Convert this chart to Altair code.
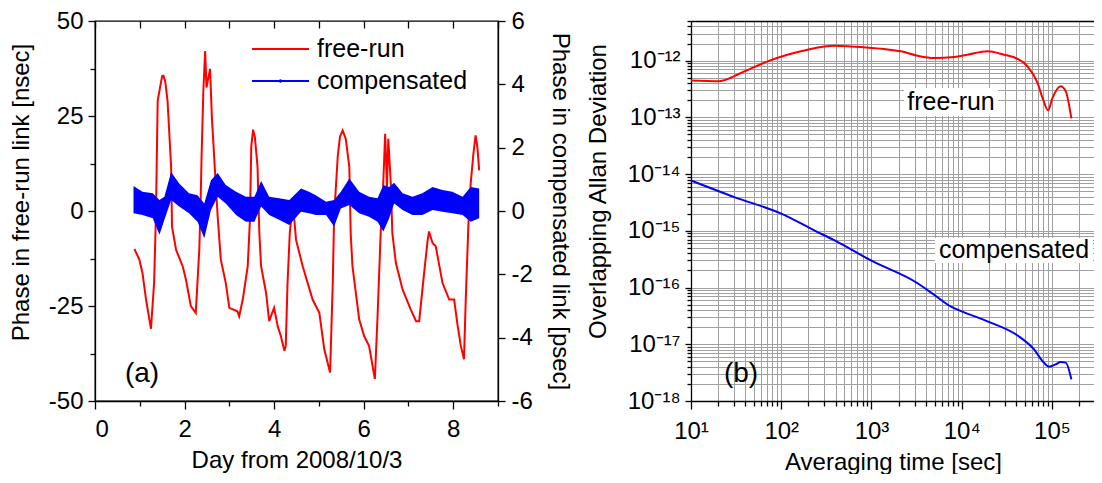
import altair as alt
import pandas as pd

# ---------------- data ----------------
# (a) free-run phase [nsec] vs day
fr_day = [0.88, 0.99, 1.06, 1.14, 1.25, 1.32, 1.36, 1.40, 1.46, 1.50, 1.53, 1.57, 1.62, 1.70, 1.72,
          1.81, 1.96, 2.03, 2.14, 2.25, 2.33, 2.36, 2.38, 2.42, 2.46, 2.49, 2.53, 2.57, 2.61, 2.70,
          2.74, 2.81, 2.92, 3.00, 3.18, 3.22, 3.30, 3.41, 3.46, 3.49, 3.53, 3.57, 3.63, 3.67, 3.71,
          3.82, 3.89, 3.95, 4.00, 4.08, 4.15, 4.23, 4.26, 4.30, 4.35, 4.42, 4.49, 4.64, 4.86, 5.01,
          5.12, 5.25, 5.31, 5.34, 5.42, 5.47, 5.53, 5.60, 5.68, 5.71, 5.75, 5.90, 6.01, 6.12, 6.25,
          6.31, 6.38, 6.43, 6.48, 6.52, 6.55, 6.61, 6.64, 6.72, 6.87, 7.05, 7.17, 7.24, 7.35, 7.43,
          7.46, 7.54, 7.61, 7.76, 7.91, 8.02, 8.10, 8.17, 8.24, 8.28, 8.34, 8.39, 8.45, 8.50, 8.54,
          8.58]
fr_ns = [-10.0, -12.8, -16.3, -23.3, -31.0, -18.9, -1.5, 29.0, 33.0, 35.5, 35.6, 34.0, 29.0, 11.6, -4.1,
         -10.2, -14.6, -18.0, -25.0, -26.8, -10.0, 2.9, 14.2, 31.7, 42.1, 32.5, 35.0, 37.4, 24.7, 6.4,
         -1.5, -12.8, -18.9, -25.5, -26.4, -27.7, -23.3, -14.6, -2.4, 17.0, 21.4, 19.5, 11.6, -5.8, -14.6,
         -21.5, -29.0, -27.0, -25.5, -30.3, -32.9, -36.8, -35.5, -18.9, -5.8, 2.0, -7.6, -14.6, -23.3, -26.8,
         -36.4, -42.5, -18.9, -1.5, 14.2, 19.5, 21.2, 19.0, 11.6, -5.8, -14.6, -28.5, -32.9, -35.5, -44.2,
         -27.7, -5.8, 5.0, 20.3, 6.4, 19.0, 6.4, -5.8, -13.7, -20.7, -25.9, -29.0, -29.0, -16.3, -7.6,
         -5.4, -8.5, -9.3, -18.9, -23.3, -23.3, -30.3, -35.5, -39.0, -23.3, -3.2, 7.2, 15.0, 19.9, 16.8,
         10.7]

# (a) compensated phase [psec]: upper / lower envelope of the noisy trace
cp_day = [0.86, 1.06, 1.29, 1.44, 1.55, 1.70, 1.88, 2.10, 2.29, 2.44, 2.59, 2.74, 2.92, 3.15,
          3.37, 3.56, 3.71, 3.89, 4.11, 4.34, 4.60, 4.78, 4.93, 5.16, 5.34, 5.49, 5.68, 5.90,
          6.12, 6.31, 6.44, 6.57, 6.68, 6.87, 7.09, 7.31, 7.54, 7.76, 7.98, 8.21, 8.39, 8.58]
cp_hi = [0.79, 0.61, 0.56, 0.35, 0.45, 1.23, 0.87, 0.56, 0.50, 0.24, 0.97, 1.20, 0.82, 0.61,
         0.45, 0.45, 0.95, 0.45, 0.40, 0.35, 0.71, 0.61, 0.50, 0.29, 0.35, 0.61, 1.03, 0.61,
         0.45, 0.40, 0.82, 0.76, 0.89, 0.56, 0.45, 0.56, 0.76, 0.66, 0.61, 0.45, 0.76, 0.71]
cp_lo = [-0.07, -0.13, -0.23, -0.75, -0.28, 0.35, 0.14, -0.07, -0.34, -0.86, 0.03, 0.45, 0.24, -0.13,
         -0.34, -0.34, 0.14, -0.13, -0.28, -0.44, -0.02, -0.07, -0.13, -0.13, -0.49, 0.08, 0.19, -0.07,
         -0.18, -0.34, -0.65, -0.23, 0.24, 0.03, -0.13, -0.13, 0.03, -0.02, -0.07, -0.13, -0.34, -0.23]

# (b) overlapping Allan deviation
fr_tau = [10, 20.6, 35.8, 70.6, 117, 196, 386, 590, 1380, 2115, 3240, 4950, 8240, 11600,
          19300, 29500, 41500, 53600, 69200, 78600, 90600, 101400, 125000, 142000, 164000]
fr_adev = [4.47e-13, 4.35e-13, 6.07e-13, 9.7e-13, 1.27e-12, 1.56e-12, 1.83e-12, 1.78e-12, 1.6e-12,
           1.46e-12, 1.22e-12, 1.11e-12, 1.16e-12, 1.27e-12, 1.46e-12, 1.27e-12, 1.08e-12, 7.95e-13,
           4.06e-13, 2.21e-13, 1.33e-13, 2.21e-13, 3.55e-13, 2.9e-13, 9.6e-14]
cp_tau = [10, 30.2, 100, 232, 386, 1000, 3240, 4950, 7530, 10000, 19300, 41500, 63300, 78600,
          92700, 110000, 125000, 142000, 164000]
cp_adev = [7.7e-15, 3.93e-15, 2.01e-15, 1.02e-15, 6.84e-16, 2.97e-16, 1.19e-16, 7.45e-17, 4.65e-17,
           3.8e-17, 2.54e-17, 1.43e-17, 8.1e-18, 5.06e-18, 4.03e-18, 4.43e-18, 4.86e-18, 4.75e-18,
           2.42e-18]

series_names = ["free-run", "compensated"]
series_colors = ["#ff0000", "#0000ff"]

# ---------------- helpers ----------------
FONT = "Liberation Sans"
FS = 24      # axis labels / titles
FS_IN = 25   # in-plot texts
SUP = {"-": "\u207b", "0": "\u2070", "1": "\u00b9", "2": "\u00b2", "3": "\u00b3", "4": "\u2074",
       "5": "\u2075", "6": "\u2076", "7": "\u2077", "8": "\u2078", "9": "\u2079"}


def pow_label(e):
    return "10" + "".join(SUP[c] for c in str(e))


y_exps = list(range(-18, -11))
x_exps = list(range(1, 6))
y_lab_arr = "[" + ",".join("'" + pow_label(e) + "'" for e in y_exps) + "]"
x_lab_arr = "[" + ",".join("'" + pow_label(e) + "'" for e in x_exps) + "]"
L10 = "(log(datum.value)/LN10)"
IS_DEC = f"abs({L10} - round({L10})) < 0.001"

y_vals_b = [k * 10.0 ** e for e in range(-18, -12) for k in range(1, 10)] + [k * 1e-12 for k in range(1, 6)]
x_vals_b = [k * 10.0 ** e for e in range(1, 5) for k in range(1, 10)] + [1e5, 2e5]

df_fr = pd.DataFrame({"day": fr_day, "ns": fr_ns})
df_cp = pd.DataFrame({"day": cp_day, "hi": cp_hi, "lo": cp_lo})
df_b = pd.concat([
    pd.DataFrame({"tau": fr_tau, "adev": fr_adev, "series": series_names[0]}),
    pd.DataFrame({"tau": cp_tau, "adev": cp_adev, "series": series_names[1]}),
])
one = pd.DataFrame({"k": [0]})

W_A, H = 403, 380
W_B = 404

xscale_a = alt.Scale(domain=[0, 9], nice=False, zero=False)

red = alt.Chart(df_fr).mark_line(color=series_colors[0], strokeWidth=2).encode(
    x=alt.X("day:Q", scale=xscale_a,
            axis=alt.Axis(orient="bottom", values=list(range(10)),
                          labelExpr="datum.value % 2 === 0 ? toString(datum.value) : ''",
                          tickSize={"condition": {"test": "datum.value % 2 === 0", "value": 8}, "value": 5},
                          labelPadding=8, titlePadding=7, title="Day from 2008/10/3", grid=False)),
    y=alt.Y("ns:Q", scale=alt.Scale(domain=[-50, 50], nice=False, zero=False),
            axis=alt.Axis(orient="left", values=[-50, -37.5, -25, -12.5, 0, 12.5, 25, 37.5, 50],
                          labelExpr="datum.value % 25 === 0 ? toString(datum.value) : ''",
                          tickSize={"condition": {"test": "datum.value % 25 === 0", "value": 7}, "value": 5},
                          labelPadding=5, titlePadding=15, titleY=171,
                          title="Phase in free-run link [nsec]", grid=False)),
)

blue = alt.Chart(df_cp).mark_area(color=series_colors[1], opacity=1, interpolate="linear").encode(
    x=alt.X("day:Q", scale=xscale_a,
            axis=alt.Axis(orient="top", values=list(range(10)), labels=False, domain=False,
                          title=None, tickSize=7, offset=-7, grid=False)),
    y=alt.Y("hi:Q", scale=alt.Scale(domain=[-6, 6], nice=False, zero=False),
            axis=alt.Axis(orient="right", values=[-6, -4, -2, 0, 2, 4, 6], tickSize=7,
                          labelExpr="toString(datum.value)",
                          labelPadding=6, titlePadding=15,
                          title="Phase in compensated link [psec]", grid=False)),
    y2="lo:Q",
)

leg_rules = alt.layer(
    alt.Chart(one).mark_rule(color=series_colors[0], strokeWidth=2).encode(
        x=alt.value(157), x2=alt.value(214), y=alt.value(28)),
    alt.Chart(one).mark_rule(color=series_colors[1], strokeWidth=2).encode(
        x=alt.value(157), x2=alt.value(214), y=alt.value(60)),
    alt.Chart(one).mark_point(color=series_colors[1], filled=True, size=12, opacity=1).encode(
        x=alt.value(185.5), y=alt.value(60)),
    alt.Chart(one).mark_text(font=FONT, fontSize=FS_IN, align="left", baseline="middle", color="black").encode(
        x=alt.value(222), y=alt.value(28), text=alt.value(series_names[0])),
    alt.Chart(one).mark_text(font=FONT, fontSize=FS_IN, align="left", baseline="middle", color="black").encode(
        x=alt.value(222), y=alt.value(60), text=alt.value(series_names[1])),
    alt.Chart(one).mark_text(font=FONT, fontSize=28, align="center", baseline="middle", color="black").encode(
        x=alt.value(47), y=alt.value(353), text=alt.value("(a)")),
)

panel_a = alt.layer(red, blue, leg_rules).resolve_scale(y="independent").resolve_axis(
    x="independent", y="independent").properties(width=W_A, height=H)

xscale_b = alt.Scale(type="log", domain=[10, 3e5], nice=False)
yscale_b = alt.Scale(type="log", domain=[1e-18, 5e-12], nice=False)

lines_b = alt.Chart(df_b).mark_line(strokeWidth=2, interpolate="monotone").encode(
    x=alt.X("tau:Q", scale=xscale_b,
            axis=alt.Axis(orient="bottom", values=x_vals_b,
                          labelExpr=f"{IS_DEC} ? {x_lab_arr}[round({L10}) - 1] : ''",
                          tickSize={"condition": {"test": IS_DEC, "value": 8}, "value": 5},
                          labelPadding=10, titlePadding=7, title="Averaging time [sec]",
                          grid=True, gridColor="#a0a0a0", gridWidth=1, labelFlush=False)),
    y=alt.Y("adev:Q", scale=yscale_b,
            axis=alt.Axis(orient="left", values=y_vals_b,
                          labelExpr=f"{IS_DEC} ? {y_lab_arr}[round({L10}) + 18] : ''",
                          tickSize={"condition": {"test": IS_DEC, "value": 6}, "value": 4},
                          labelPadding=5, titlePadding=17, titleY=170,
                          title="Overlapping Allan Deviation",
                          grid=True, gridColor="#a0a0a0", gridWidth=1, labelFlush=False)),
    color=alt.Color("series:N", scale=alt.Scale(domain=series_names, range=series_colors), legend=None),
)

# top border of panel (b) as a bare axis line
top_b = alt.Chart(df_b).mark_point(opacity=0).encode(
    x=alt.X("tau:Q", scale=xscale_b,
            axis=alt.Axis(orient="top", labels=False, ticks=False, grid=False, title=None, domain=True)),
)

ann_b = alt.layer(
    alt.Chart(one).mark_rect(color="white").encode(
        x=alt.value(213), x2=alt.value(307), y=alt.value(67), y2=alt.value(95)),
    alt.Chart(one).mark_rect(color="white").encode(
        x=alt.value(244), x2=alt.value(402), y=alt.value(217), y2=alt.value(242)),
    alt.Chart(one).mark_text(font=FONT, fontSize=FS_IN, align="center", baseline="middle", color="black").encode(
        x=alt.value(260), y=alt.value(81), text=alt.value(series_names[0])),
    alt.Chart(one).mark_text(font=FONT, fontSize=FS_IN, align="center", baseline="middle", color="black").encode(
        x=alt.value(323), y=alt.value(229), text=alt.value(series_names[1])),
    alt.Chart(one).mark_text(font=FONT, fontSize=28, align="center", baseline="middle", color="black").encode(
        x=alt.value(50), y=alt.value(353), text=alt.value("(b)")),
)

panel_b = alt.layer(lines_b, top_b, ann_b).resolve_axis(x="independent").properties(
    width=W_B, height=H, view=alt.ViewBackground(stroke=None))

chart = alt.hconcat(panel_a, panel_b, spacing=14).properties(
    padding={"left": 0, "top": 0, "right": -1, "bottom": 0}
).configure_view(stroke="black", strokeWidth=1.3).configure_axis(
    labelFont=FONT, labelFontSize=FS, labelColor="black",
    titleFont=FONT, titleFontSize=FS, titleFontWeight="normal", titleColor="black",
    domainColor="black", domainWidth=1.3, tickColor="black", tickWidth=1.3,
)

chart.save("out.html", embed_options={"renderer": "svg", "actions": False})
